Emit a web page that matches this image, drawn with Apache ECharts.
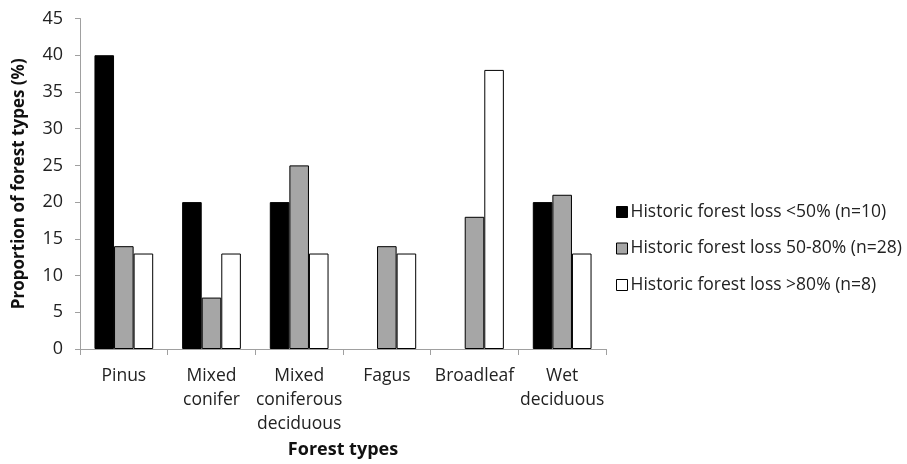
<!DOCTYPE html>
<html><head><meta charset="utf-8">
<script src="https://cdn.jsdelivr.net/npm/echarts@6/dist/echarts.min.js"></script>
<style>html,body{margin:0;padding:0;background:#fff}#c{width:907px;height:464px}</style>
</head><body><div id="c"></div>
<script>
const categories = ["Pinus", "Mixed\nconifer", "Mixed\nconiferous\ndeciduous", "Fagus", "Broadleaf", "Wet\ndeciduous"];
const seriesNames = ["Historic forest loss <50% (n=10)", "Historic forest loss 50-80% (n=28)", "Historic forest loss >80% (n=8)"];
const lossLow = [40, 20, 20, 0, 0, 20];
const lossMid = [14, 7, 25, 14, 18, 21];
const lossHigh = [13, 13, 13, 13, 38, 13];
const yTicks = [0, 5, 10, 15, 20, 25, 30, 35, 40, 45];

const colors = ["#000000", "#a6a6a6", "#ffffff"];
const font = "'Open Sans', 'Liberation Sans', sans-serif";
const chart = echarts.init(document.getElementById('c'), null, {renderer: 'canvas'});
// zero-valued bars are not drawn in the original (no outline)
const mk = (name, data, i) => ({
  name, type: 'bar', data: data.map(v => (v === 0 ? '-' : v)),
  barGap: '0%', barCategoryGap: '33%',
  itemStyle: {color: colors[i], borderColor: '#000', borderWidth: 1},
  animation: false
});
chart.setOption({
  animation: false,
  textStyle: {fontFamily: font},
  grid: {left: 80, right: 301, top: 18.5, bottom: 113.5, containLabel: false},
  legend: {
    orient: 'vertical', left: 611, top: 197, itemGap: 16.5,
    itemWidth: 11, itemHeight: 11, icon: 'rect',
    textStyle: {fontFamily: font, fontSize: 17.5, lineHeight: 20, color: '#222', padding: [0, 0, 0, -2]},
    data: seriesNames.map((n, i) => ({name: n, itemStyle: {color: colors[i], borderColor: '#000', borderWidth: 1}}))
  },
  xAxis: {
    type: 'category', data: categories,
    name: 'Forest types', nameLocation: 'middle', nameGap: 92,
    nameTextStyle: {fontFamily: font, fontSize: 18, fontWeight: 'bold', color: '#111'},
    axisLine: {lineStyle: {color: '#a0a0a0', width: 1}},
    axisTick: {show: true, alignWithLabel: false, length: 6, lineStyle: {color: '#a0a0a0'}},
    axisLabel: {fontFamily: font, fontSize: 17.5, color: '#222', lineHeight: 24, margin: 15, interval: 0}
  },
  yAxis: {
    type: 'value', min: 0, max: 45, interval: 5,
    name: 'Proportion of forest types (%)', nameLocation: 'middle', nameGap: 52,
    nameTextStyle: {fontFamily: font, fontSize: 17, fontWeight: 'bold', color: '#111'},
    axisLine: {show: true, lineStyle: {color: '#a0a0a0', width: 1}},
    axisTick: {show: true, length: 5, lineStyle: {color: '#a0a0a0'}},
    splitLine: {show: false},
    axisLabel: {fontFamily: font, fontSize: 18, color: '#222', margin: 17,
      formatter: v => yTicks.includes(v) ? String(v) : ''}
  },
  series: [mk(seriesNames[0], lossLow, 0), mk(seriesNames[1], lossMid, 1), mk(seriesNames[2], lossHigh, 2)]
});
</script></body></html>
